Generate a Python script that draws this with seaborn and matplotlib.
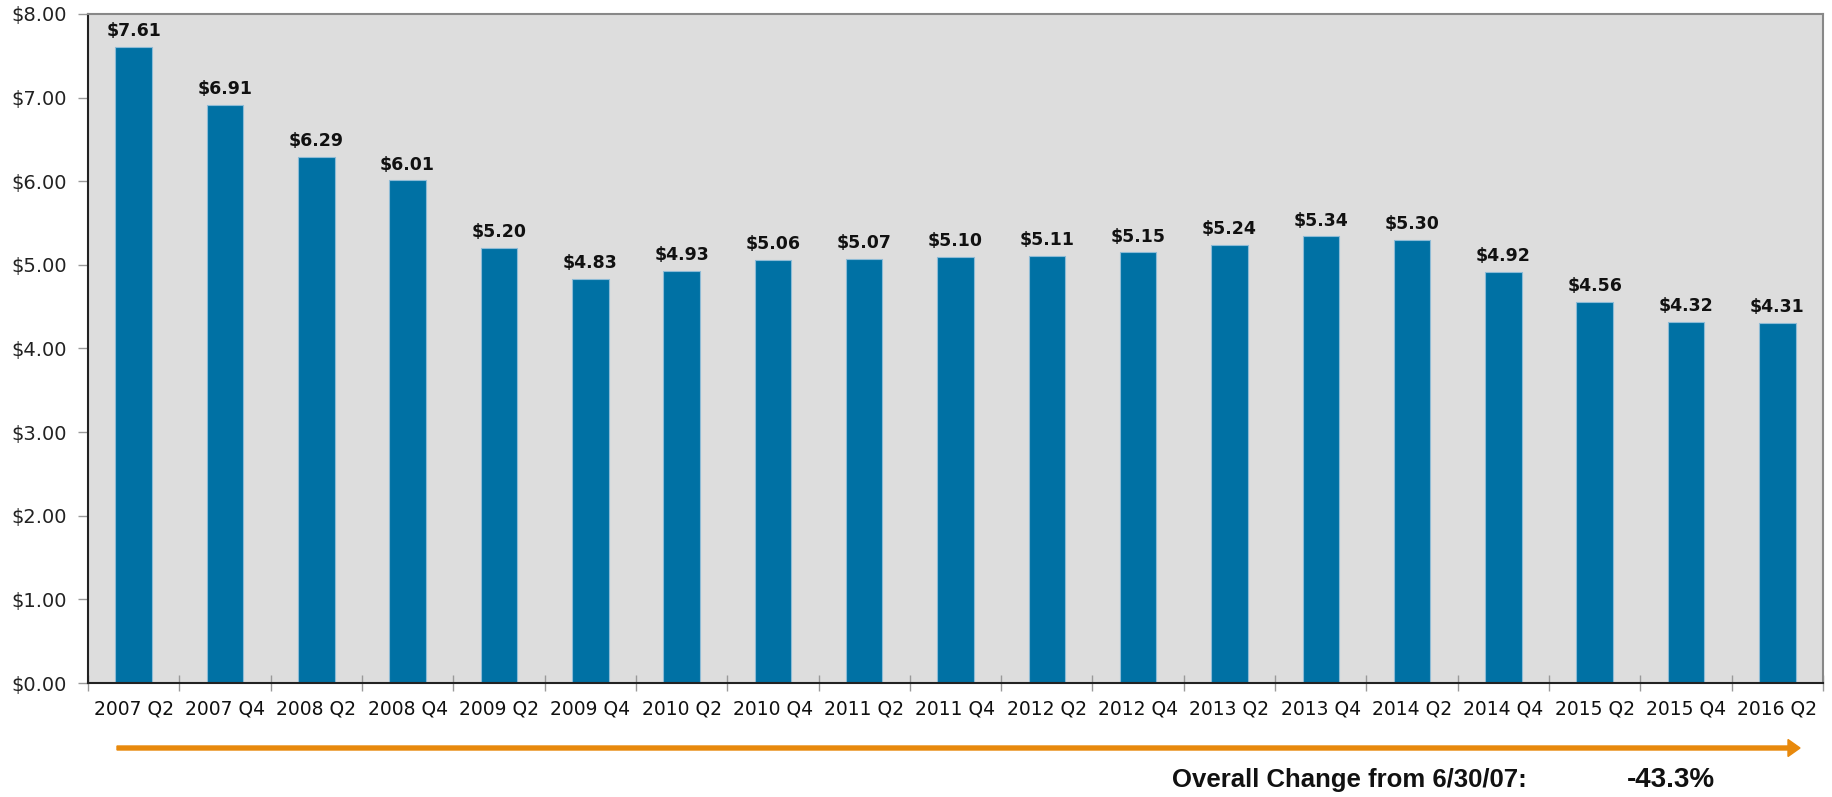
import matplotlib
matplotlib.use("Agg")
import matplotlib.pyplot as plt
from matplotlib.patches import FancyArrow
import seaborn as sns
import pandas as pd

periods = ['2007 Q2', '2007 Q4', '2008 Q2', '2008 Q4', '2009 Q2', '2009 Q4', '2010 Q2',
           '2010 Q4', '2011 Q2', '2011 Q4', '2012 Q2', '2012 Q4', '2013 Q2', '2013 Q4',
           '2014 Q2', '2014 Q4', '2015 Q2', '2015 Q4', '2016 Q2']
values = [7.61, 6.91, 6.29, 6.01, 5.20, 4.83, 4.93, 5.06, 5.07, 5.10, 5.11, 5.15,
          5.24, 5.34, 5.30, 4.92, 4.56, 4.32, 4.31]
y_ticks = [0, 1, 2, 3, 4, 5, 6, 7, 8]
change_label = 'Overall Change from 6/30/07:'
change_value = '-43.3%'

BAR = '#0071A4'
BG = '#DDDDDD'
ORANGE = '#E8890C'
W, H = 1832, 797

sns.set_theme(style='white')
plt.rcParams['font.family'] = ['DejaVu Sans']

df = pd.DataFrame({'period': periods, 'value': values})

fig = plt.figure(figsize=(W / 100, H / 100), dpi=100)
ax = fig.add_axes([88 / W, 1 - 683 / H, (1823 - 88) / W, (683 - 14) / H])
ax.set_facecolor(BG)

sns.barplot(data=df, x='period', y='value', color=BAR, width=0.4, saturation=1,
            edgecolor='#8DBBD6', linewidth=0.8, ax=ax)

for i, v in enumerate(values):
    ax.text(i, v + 0.08, f'${v:.2f}', ha='center', va='bottom', fontsize=12.5,
            fontweight='bold', color='#111111')

ax.set_ylim(0, 8)
ax.set_xlim(-0.5, len(periods) - 0.5)
ax.set_yticks(y_ticks)
ax.set_yticklabels([f'${t:.2f}' for t in y_ticks], fontsize=14, color='#222222')
ax.set_xticks(range(len(periods)))
ax.set_xticklabels(periods, fontsize=13.5, color='#111111')
ax.set_xticks([b - 0.5 for b in range(len(periods) + 1)], minor=True)
ax.tick_params(axis='x', which='major', length=0, pad=12)
ax.tick_params(axis='x', which='minor', bottom=True, length=11, width=1,
               color='#999999', direction='inout')
ax.tick_params(axis='y', length=7, width=1, color='#999999', direction='out',
               left=True, pad=8)
ax.set_xlabel('')
ax.set_ylabel('')

for s in ['left', 'bottom']:
    ax.spines[s].set_color('#222222')
    ax.spines[s].set_linewidth(1.5)
for s in ['top', 'right']:
    ax.spines[s].set_visible(True)
    ax.spines[s].set_color('#888888')
    ax.spines[s].set_linewidth(1.5)

# orange arrow under the x axis
fig.patches.append(FancyArrow(
    117 / W, 1 - 748 / H, (1800 - 117) / W, 0, width=4 / H,
    head_width=17 / H, head_length=12 / W, length_includes_head=True,
    color=ORANGE, transform=fig.transFigure))

foot = dict(fontweight='bold', color='#111111',
            family=['Liberation Sans'], va='center', ha='left')
fig.text(1172 / W, 1 - 780 / H, change_label, fontsize=18.5, **foot)
fig.text(1627 / W, 1 - 780 / H, change_value, fontsize=20, **foot)

fig.savefig('out.png', dpi=100)
